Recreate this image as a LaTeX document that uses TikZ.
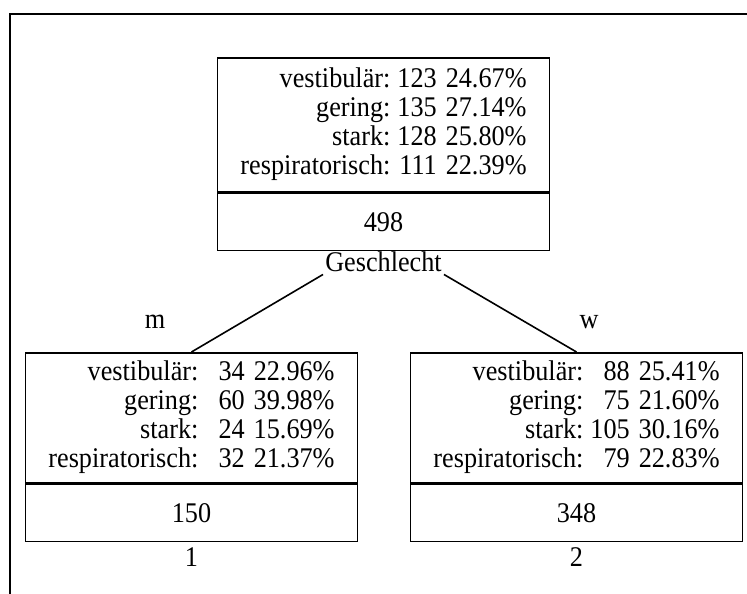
\documentclass[tikz,border=0pt]{standalone}
\usepackage{fontspec}
\setmainfont[FakeStretch=0.92]{Liberation Serif}
\usetikzlibrary{positioning}
\newcommand{\treefont}{\fontsize{28.5}{29}\selectfont}
\begin{document}
\begin{tikzpicture}[x=1pt,y=-1pt,
    stats/.style={draw,line width=1.6pt,anchor=north,inner sep=0pt,minimum width=332pt,font=\treefont},
    total/.style={draw,line width=1.6pt,anchor=north,inner sep=0pt,minimum width=332pt,minimum height=57pt,font=\treefont},
    lab/.style={font=\treefont,inner sep=2pt}]
  \useasboundingbox (0,0) rectangle (747,594);
  \draw[line width=2.2pt] (10,594) -- (10,14) -- (747,14);
  % root
  \node[stats,minimum height=134pt] (root) at (383.5,57)
    {\begin{tabular}{@{}r@{\hspace{7pt}}r@{\hspace{9pt}}r@{}}
      vestibulär: & 123 & 24.67\% \\
      gering: & 135 & 27.14\% \\
      stark: & 128 & 25.80\% \\
      respiratorisch: & 111 & 22.39\%
    \end{tabular}};
  \node[total] (rootcount) at (root.south) {498};
  \node[lab,anchor=north] (split) at (383.5,250) {Geschlecht};
  % children
  \node[stats,minimum height=130pt] (male) at (191.5,352)
    {\begin{tabular}{@{}r@{\hspace{7pt}}r@{\hspace{9pt}}r@{}}
      vestibulär: & \hphantom{0}34 & 22.96\% \\
      gering: & 60 & 39.98\% \\
      stark: & 24 & 15.69\% \\
      respiratorisch: & 32 & 21.37\%
    \end{tabular}};
  \node[total] (malecount) at (male.south) {150};
  \node[stats,minimum height=130pt] (female) at (576.5,352)
    {\begin{tabular}{@{}r@{\hspace{7pt}}r@{\hspace{9pt}}r@{}}
      vestibulär: & 88 & 25.41\% \\
      gering: & 75 & 21.60\% \\
      stark: & 105 & 30.16\% \\
      respiratorisch: & 79 & 22.83\%
    \end{tabular}};
  \node[total] (femalecount) at (female.south) {348};
  \draw[line width=1.6pt] (split.south west) -- (male.north);
  \draw[line width=1.6pt] (split.south east) -- (female.north);
  \node[lab] (edgem) at (155,322) {m};
  \node[lab] (edgew) at (589,322) {w};
  \node[lab] (leafone) at (191.5,557) {1};
  \node[lab] (leaftwo) at (576.5,557) {2};
\end{tikzpicture}
\end{document}
